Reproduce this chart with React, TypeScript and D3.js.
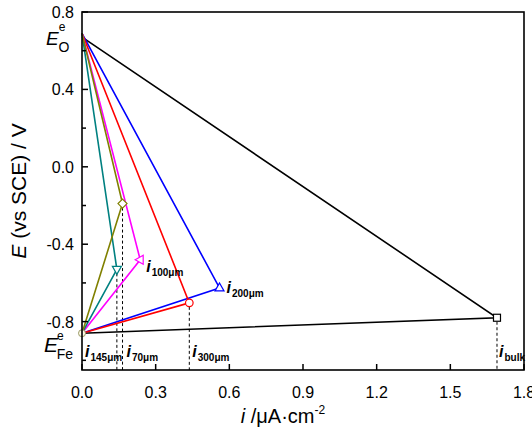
import React from "react";
import * as d3 from "d3";

const seriesNames = ["bulk", "200μm", "300μm", "100μm", "145μm", "70μm"];
const seriesColors = ["#000000", "#0000ff", "#ff0000", "#ff00ff", "#008080", "#808000"];
const seriesShapes = ["square", "triUp", "circle", "triLeft", "triDown", "diamond"];
const startE = [0.67, 0.69, 0.69, 0.69, 0.69, 0.69];
const peakI = [1.69, 0.56, 0.437, 0.237, 0.142, 0.165];
const peakE = [-0.78, -0.626, -0.703, -0.48, -0.53, -0.19];
const endE = -0.86;
const dashedSeries = ["bulk", "300μm", "145μm", "70μm"];

const xTicks = [0, 0.3, 0.6, 0.9, 1.2, 1.5, 1.8];
const yTicks = [0.8, 0.4, 0.0, -0.4, -0.8];
const yMinorTicks = [0.6, 0.2, -0.2, -0.6, -1.0];

const W = 532, H = 428;
const L = 82, R = 524, T = 12, B = 370;

function marker(shape: string, cx: number, cy: number, color: string) {
  const s = 4;
  const common = { fill: "white", stroke: color, strokeWidth: 1.2 };
  switch (shape) {
    case "square":
      return <rect x={cx - 3.5} y={cy - 3.5} width={7} height={7} {...common} />;
    case "circle":
      return <circle cx={cx} cy={cy} r={3.8} {...common} />;
    case "triUp":
      return <path d={`M${cx},${cy - s - 1}L${cx + s + 0.5},${cy + s - 1}L${cx - s - 0.5},${cy + s - 1}Z`} {...common} />;
    case "triDown":
      return <path d={`M${cx},${cy + s + 1}L${cx + s + 0.5},${cy - s + 1}L${cx - s - 0.5},${cy - s + 1}Z`} {...common} />;
    case "triLeft":
      return <path d={`M${cx - s - 1},${cy}L${cx + s - 1},${cy - s - 0.5}L${cx + s - 1},${cy + s + 0.5}Z`} {...common} />;
    case "diamond":
      return <path d={`M${cx},${cy - s - 0.5}L${cx + s + 0.5},${cy}L${cx},${cy + s + 0.5}L${cx - s - 0.5},${cy}Z`} {...common} />;
  }
  return null;
}

export default function App() {
  const x = d3.scaleLinear().domain([0, 1.8]).range([L, R]);
  const y = d3.scaleLinear().domain([-1.05, 0.8]).range([B, T]);
  const line = d3.line<[number, number]>().x((d) => x(d[0])).y((d) => y(d[1]));
  const font = "Liberation Sans, Arial, sans-serif";

  const labelPos: Record<string, [number, number]> = {
    bulk: [x(peakI[0]) + 2, 357],
    "200μm": [x(peakI[1]) + 7, 293],
    "300μm": [x(peakI[2]) + 3, 357],
    "100μm": [x(peakI[3]) + 6, 272],
    "145μm": [L + 3, 357],
    "70μm": [x(peakI[5]) + 4, 357],
  };

  return (
    <svg width={W} height={H} style={{ position: "absolute", left: 0, top: 0 }} fontFamily={font}>
      <rect width={W} height={H} fill="white" />
      {seriesNames.map((n, i) =>
        dashedSeries.includes(n) ? (
          <line key={"d" + n} x1={x(peakI[i])} x2={x(peakI[i])} y1={y(peakE[i]) + 4} y2={B}
            stroke="black" strokeWidth={1} strokeDasharray="3,2.5" />
        ) : null
      )}
      {seriesNames.map((n, i) => (
        <path key={"l" + n}
          d={line([[0, startE[i]], [peakI[i], peakE[i]], [0, endE]]) || ""}
          fill="none" stroke={seriesColors[i]} strokeWidth={1.6} />
      ))}
      {seriesNames.map((n, i) => (
        <g key={"m" + n}>{marker(seriesShapes[i], x(peakI[i]), y(peakE[i]), seriesColors[i])}</g>
      ))}
      <circle cx={x(0)} cy={y(endE)} r={3.5} fill="#fffbe8" stroke="#999966" strokeWidth={1} />

      <rect x={L} y={T} width={R - L} height={B - T} fill="none" stroke="black" strokeWidth={1.6} />
      {xTicks.map((t) => (
        <g key={"xt" + t}>
          <line x1={x(t)} x2={x(t)} y1={B} y2={B - 6} stroke="black" strokeWidth={1.5} />
          <text x={x(t)} y={B + 28} textAnchor="middle" fontSize={16}>{t.toFixed(1)}</text>
        </g>
      ))}
      {yTicks.map((t) => (
        <g key={"yt" + t}>
          <line x1={L} x2={L + 6} y1={y(t)} y2={y(t)} stroke="black" strokeWidth={1.5} />
          <text x={L - 8} y={y(t) + 6} textAnchor="end" fontSize={16}>{t.toFixed(1)}</text>
        </g>
      ))}
      {yMinorTicks.map((t) => (
        <line key={"ym" + t} x1={L} x2={L + 4} y1={y(t)} y2={y(t)} stroke="black" strokeWidth={1.5} />
      ))}

      {seriesNames.map((n) => (
        <text key={"lab" + n} x={labelPos[n][0]} y={labelPos[n][1]} fontWeight="bold">
          <tspan fontStyle="italic" fontSize={16}>i</tspan>
          <tspan fontSize={10} dx={1} dy={4}>{n}</tspan>
        </text>
      ))}

      <text x={46} y={45} fontSize={19}>
        <tspan fontStyle="italic">E</tspan>
        <tspan fontSize={12} dx={0} dy={-14}>e</tspan>
        <tspan fontSize={14} dx={-7} dy={21}>O</tspan>
      </text>
      <text x={44} y={352} fontSize={21}>
        <tspan fontStyle="italic">E</tspan>
        <tspan fontSize={12} dx={-1} dy={-12}>e</tspan>
        <tspan fontSize={14} dx={-7} dy={19}>Fe</tspan>
      </text>

      <text x={283} y={423} textAnchor="middle" fontSize={20}>
        <tspan fontStyle="italic">i</tspan>
        <tspan> /μA·cm</tspan>
        <tspan fontSize={12} dy={-9}>-2</tspan>
      </text>
      <text transform={`translate(26,${(T + B) / 2}) rotate(-90)`} textAnchor="middle" fontSize={21}>
        <tspan fontStyle="italic">E</tspan>
        <tspan> (vs SCE) / V</tspan>
      </text>
    </svg>
  );
}
